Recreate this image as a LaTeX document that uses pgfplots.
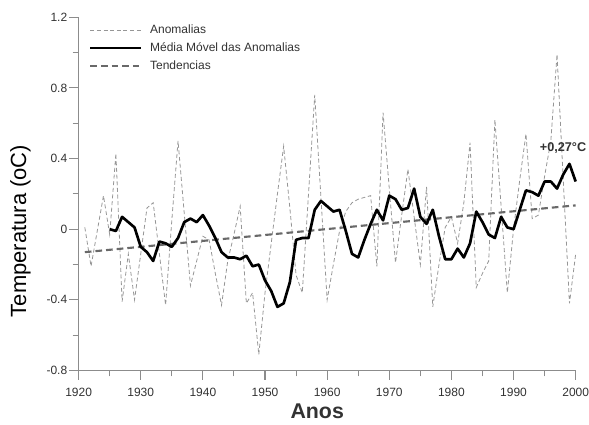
\documentclass[border=0pt]{standalone}
\usepackage{pgfplots}
\pgfplotsset{compat=1.18}
\usepackage{fontspec}
\setmainfont{Liberation Sans}
\definecolor{anomgray}{RGB}{150,150,150}
\definecolor{trendgray}{RGB}{105,105,105}
\definecolor{axgray}{RGB}{140,140,140}
\definecolor{txtgray}{RGB}{50,50,50}

\pgfplotstableread{
year anom
1921 0.01
1922 -0.21
1923 -0.01
1924 0.19
1925 -0.03
1926 0.43
1927 -0.41
1928 -0.14
1929 -0.40
1930 -0.14
1931 0.12
1932 0.15
1933 -0.14
1934 -0.43
1935 0.05
1936 0.50
1937 0.09
1938 -0.32
1939 -0.18
1940 -0.04
1941 -0.06
1942 -0.25
1943 -0.43
1944 -0.18
1945 -0.03
1946 0.13
1947 -0.42
1948 -0.36
1949 -0.71
1950 -0.36
1951 -0.08
1952 0.20
1953 0.47
1954 0.12
1955 -0.26
1956 -0.36
1957 0.20
1958 0.76
1959 0.18
1960 -0.40
1961 -0.20
1962 -0.01
1963 0.10
1964 0.15
1965 0.17
1966 0.18
1967 0.19
1968 -0.21
1969 0.66
1970 0.23
1971 -0.19
1972 0.08
1973 0.34
1974 0.07
1975 -0.20
1976 0.24
1977 -0.44
1978 -0.20
1979 0.01
1980 0.07
1981 -0.08
1982 0.15
1983 0.49
1984 -0.33
1985 -0.25
1986 -0.18
1987 0.62
1988 0.13
1989 -0.36
1990 0.00
1991 0.28
1992 0.54
1993 0.06
1994 0.08
1995 0.30
1996 0.50
1997 0.99
1998 0.28
1999 -0.42
2000 -0.14
}\anomdata

\pgfplotstableread{
year ma
1925 0.00
1926 -0.01
1927 0.07
1928 0.04
1929 0.01
1930 -0.10
1931 -0.13
1932 -0.18
1933 -0.07
1934 -0.08
1935 -0.10
1936 -0.05
1937 0.04
1938 0.06
1939 0.04
1940 0.08
1941 0.02
1942 -0.05
1943 -0.13
1944 -0.16
1945 -0.16
1946 -0.17
1947 -0.15
1948 -0.21
1949 -0.20
1950 -0.29
1951 -0.35
1952 -0.44
1953 -0.42
1954 -0.30
1955 -0.06
1956 -0.05
1957 -0.05
1958 0.11
1959 0.16
1960 0.13
1961 0.10
1962 0.11
1963 -0.01
1964 -0.14
1965 -0.16
1966 -0.06
1967 0.03
1968 0.11
1969 0.05
1970 0.19
1971 0.17
1972 0.11
1973 0.12
1974 0.23
1975 0.07
1976 0.03
1977 0.11
1978 -0.04
1979 -0.17
1980 -0.17
1981 -0.11
1982 -0.16
1983 -0.08
1984 0.10
1985 0.04
1986 -0.03
1987 -0.05
1988 0.07
1989 0.01
1990 0.00
1991 0.11
1992 0.22
1993 0.21
1994 0.19
1995 0.27
1996 0.27
1997 0.23
1998 0.31
1999 0.37
2000 0.27
}\madata

\begin{document}
\begin{tikzpicture}
\begin{axis}[
  scale only axis, width=373pt, height=265pt,
  xmin=1920, xmax=2000, ymin=-0.8, ymax=1.2,
  axis x line*=bottom, axis y line*=left,
  axis line style={axgray, line width=0.8pt},
  xtick={1920,1930,...,2000}, minor x tick num=1,
  ytick={-0.8,-0.4,0,0.4,0.8,1.2}, minor y tick num=1,
  yticklabels={-0.8,-0.4,0,0.4,0.8,1.2},
  xticklabel={\pgfmathprintnumber[1000 sep={}]{\tick}},
  tick align=outside, major tick length=7pt, minor tick length=4.5pt,
  tick style={axgray, line width=0.8pt},
  ticklabel style={font=\fontsize{9}{10}\selectfont, text=txtgray},
  xticklabel style={yshift=-3pt},
  yticklabel style={xshift=2pt},
  /pgf/number format/assume math mode=true,
  xlabel={\textbf{Anos}},
  xlabel style={at={(axis description cs:0.48,-0.116)}, anchor=center,
    font=\fontsize{16}{18}\selectfont, text=txtgray},
  ylabel={Temperatura (oC)},
  ylabel style={at={(axis description cs:-0.117,0.395)}, anchor=center, rotate=0,
    font=\fontsize{16.5}{18}\selectfont, text=black},
  legend style={at={(0.012,0.995)}, anchor=north west, draw=none, fill=none,
    font=\fontsize{9}{10}\selectfont, text=txtgray, row sep=1.5pt,
    /tikz/every odd column/.append style={column sep=4pt}},
  legend cell align=left,
  legend image code/.code={\draw[#1] (0pt,0pt) -- (38pt,0pt);},
  clip=false,
]
\coordinate (SW) at (rel axis cs:0,0);
\coordinate (NE) at (rel axis cs:1,1);
\addplot[anomgray, line width=0.6pt, dash pattern=on 3pt off 2pt] table[x=year,y=anom]{\anomdata};
\addlegendentry{Anomalias}
\addlegendimage{black, line width=2pt}
\addlegendentry{Média Móvel das Anomalias}
\addplot[trendgray, line width=1.6pt, dash pattern=on 5pt off 3pt] coordinates {(1921,-0.13) (2000,0.135)};
\addlegendentry{Tendencias}
\addplot[black, line width=2pt, line join=round, forget plot] table[x=year,y=ma]{\madata};
\node[anchor=west, inner sep=0pt, font=\bfseries\fontsize{9.5}{11}\selectfont, text=txtgray]
  at (axis cs:1994.2,0.46) {+0,27°C};
\end{axis}
\pgfresetboundingbox
\path[use as bounding box] ([xshift=-59pt,yshift=-40.5pt]SW) rectangle ([xshift=10pt,yshift=13pt]NE);
\end{tikzpicture}
\end{document}
